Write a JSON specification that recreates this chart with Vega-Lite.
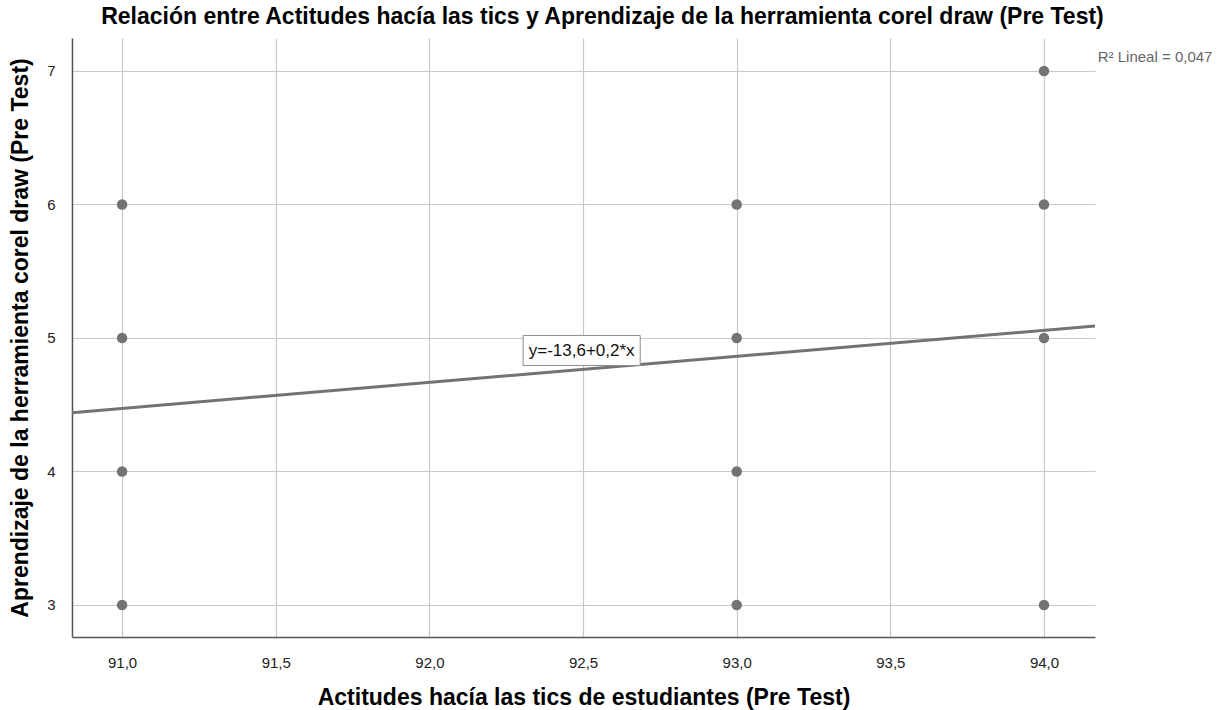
{
  "$schema": "https://vega.github.io/schema/vega-lite/v6.json",
  "autosize": {"type": "none"},
  "width": 1023,
  "height": 599,
  "padding": {"left": 72, "top": 38, "right": 125, "bottom": 73},
  "background": "white",
  "title": {
    "text": "Relación entre Actitudes hacía las tics y Aprendizaje de la herramienta corel draw (Pre Test)",
    "font": "Liberation Sans",
    "fontSize": 23,
    "fontWeight": "bold",
    "color": "#000000",
    "anchor": "middle",
    "dx": 19,
    "offset": 9
  },
  "config": {
    "view": {"stroke": null},
    "font": "Liberation Sans",
    "axis": {
      "gridColor": "#c8c8c8",
      "gridWidth": 1.2,
      "domainColor": "#555555",
      "domainWidth": 1.5,
      "ticks": false,
      "labelFont": "Liberation Sans",
      "labelFontSize": 15,
      "labelColor": "#222222",
      "titleFont": "Liberation Sans",
      "titleFontSize": 23,
      "titleFontWeight": "bold",
      "titleColor": "#000000"
    }
  },
  "datasets": {
    "points": [
      {"actitudes": 91, "aprendizaje": 3},
      {"actitudes": 91, "aprendizaje": 4},
      {"actitudes": 91, "aprendizaje": 5},
      {"actitudes": 91, "aprendizaje": 6},
      {"actitudes": 93, "aprendizaje": 3},
      {"actitudes": 93, "aprendizaje": 4},
      {"actitudes": 93, "aprendizaje": 5},
      {"actitudes": 93, "aprendizaje": 6},
      {"actitudes": 94, "aprendizaje": 3},
      {"actitudes": 94, "aprendizaje": 5},
      {"actitudes": 94, "aprendizaje": 6},
      {"actitudes": 94, "aprendizaje": 7}
    ],
    "fit": [
      {"actitudes": 90.837, "aprendizaje": 4.44},
      {"actitudes": 94.166, "aprendizaje": 5.09}
    ],
    "box": [
      {"x1": 92.305, "x2": 92.686, "y1": 4.794, "y2": 5.019, "xc": 92.4955, "yc": 4.905, "label": "y=-13,6+0,2*x"}
    ],
    "r2": [
      {"x": 94.175, "y": 7.105, "label": "R² Lineal = 0,047"}
    ]
  },
  "layer": [
    {
      "data": {"name": "points"},
      "mark": {"type": "point", "filled": true, "size": 110, "color": "#737373", "opacity": 1},
      "encoding": {
        "x": {
          "field": "actitudes",
          "type": "quantitative",
          "scale": {"domain": [90.837, 94.166], "nice": false, "zero": false},
          "axis": {
            "title": "Actitudes hacía las tics de estudiantes (Pre Test)",
            "values": [91, 91.5, 92, 92.5, 93, 93.5, 94],
            "labelExpr": "replace(format(datum.value, '.1f'), '.', ',')",
            "labelPadding": 18,
            "titlePadding": 16
          }
        },
        "y": {
          "field": "aprendizaje",
          "type": "quantitative",
          "scale": {"domain": [2.76, 7.247], "nice": false, "zero": false},
          "axis": {
            "title": "Aprendizaje de la herramienta corel draw (Pre Test)",
            "values": [3, 4, 5, 6, 7],
            "format": "d",
            "labelPadding": 17,
            "titlePadding": 14
          }
        }
      }
    },
    {
      "data": {"name": "fit"},
      "mark": {"type": "line", "color": "#737373", "strokeWidth": 3},
      "encoding": {
        "x": {"field": "actitudes", "type": "quantitative"},
        "y": {"field": "aprendizaje", "type": "quantitative"}
      }
    },
    {
      "data": {"name": "box"},
      "mark": {"type": "rect", "fill": "white", "stroke": "#8c8c8c", "strokeWidth": 1},
      "encoding": {
        "x": {"field": "x1", "type": "quantitative"},
        "x2": {"field": "x2"},
        "y": {"field": "y1", "type": "quantitative"},
        "y2": {"field": "y2"}
      }
    },
    {
      "data": {"name": "box"},
      "mark": {"type": "text", "font": "Liberation Sans", "fontSize": 17, "color": "#111111", "align": "center", "baseline": "middle"},
      "encoding": {
        "x": {"field": "xc", "type": "quantitative"},
        "y": {"field": "yc", "type": "quantitative"},
        "text": {"field": "label"}
      }
    },
    {
      "data": {"name": "r2"},
      "mark": {"type": "text", "font": "Liberation Sans", "fontSize": 15, "color": "#666666", "align": "left", "baseline": "middle", "clip": false},
      "encoding": {
        "x": {"field": "x", "type": "quantitative"},
        "y": {"field": "y", "type": "quantitative"},
        "text": {"field": "label"}
      }
    }
  ]
}
